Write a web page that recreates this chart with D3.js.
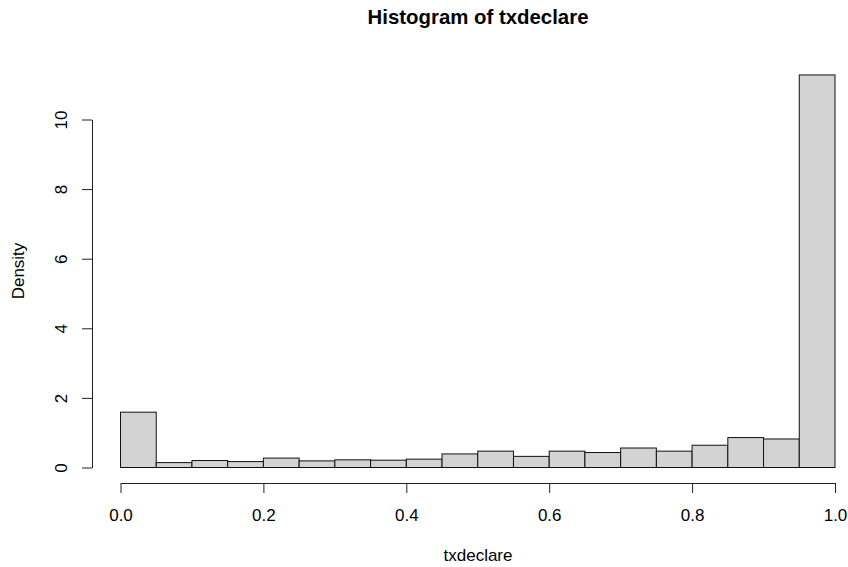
<!DOCTYPE html>
<head>
<meta charset="utf-8">
<script src="https://d3js.org/d3.v7.min.js"></script>
<style>
body { margin:0; background:#fff; }
text { font-family: "Liberation Sans", Arial, sans-serif; fill:#000; }
</style>
</head>
<body>
<script>

// histogram of txdeclare (density scale, breaks of 0.05)
var breaks = [0, 0.05, 0.10, 0.15, 0.20, 0.25, 0.30, 0.35, 0.40, 0.45, 0.50,
              0.55, 0.60, 0.65, 0.70, 0.75, 0.80, 0.85, 0.90, 0.95, 1.00];
var density = [1.59, 0.14, 0.20, 0.17, 0.27, 0.19, 0.22, 0.21, 0.24, 0.39,
               0.47, 0.32, 0.47, 0.43, 0.56, 0.47, 0.64, 0.86, 0.82, 11.28];
var xTicks = [0, 0.2, 0.4, 0.6, 0.8, 1.0];
var yTicks = [0, 2, 4, 6, 8, 10];
var title = "Histogram of txdeclare",
    xLabel = "txdeclare",
    yLabel = "Density";

var width = 848,
  height = 567,
  plotLeft = 92,
  plotBottom = 483;

var svg = d3.select("body").append("svg")
    .attr("width", width)
    .attr("height", height);

var x = d3.scaleLinear()
    .domain([0, 1])
    .range([120.5, 835]);

var y = d3.scaleLinear()
    .domain([0, 10])
    .range([467.5, 119.5]);

var bins = density.map(function(d, i) {
  return {x0: breaks[i], x1: breaks[i + 1], value: d};
});

svg.append("g")
  .attr("class", "bars")
  .selectAll("rect")
  .data(bins)
  .enter().append("rect")
    .attr("x", function(d) { return x(d.x0); })
    .attr("width", function(d) { return x(d.x1) - x(d.x0); })
    .attr("y", function(d) { return y(d.value); })
    .attr("height", function(d) { return y(0) - y(d.value); })
    .style("fill", "#d3d3d3")
    .style("stroke", "#111")
    .style("stroke-width", 1);

var xAxis = svg.append("g")
    .attr("transform", "translate(0," + plotBottom + ")")
    .call(d3.axisBottom(x)
      .tickValues(xTicks)
      .tickFormat(d3.format(".1f"))
      .tickSize(10)
      .tickSizeOuter(0)
      .tickPadding(16));

var yAxis = svg.append("g")
    .attr("transform", "translate(" + plotLeft + ",0)")
    .call(d3.axisLeft(y)
      .tickValues(yTicks)
      .tickSize(10)
      .tickSizeOuter(0));

yAxis.selectAll(".tick text")
    .attr("x", null)
    .attr("dy", null)
    .attr("text-anchor", "middle")
    .attr("transform", "translate(-25,0) rotate(-90)");

svg.selectAll(".domain, .tick line")
    .style("stroke", "#222");
svg.selectAll(".tick text")
    .style("font-size", "17px")
    .style("font-family", "'Liberation Sans', Arial, sans-serif")
    .style("fill", "#000");

svg.append("text")
    .attr("x", 478)
    .attr("y", 24)
    .attr("text-anchor", "middle")
    .style("font-size", "20.4px")
    .style("font-weight", "bold")
    .text(title);

svg.append("text")
    .attr("x", 478)
    .attr("y", 561)
    .attr("text-anchor", "middle")
    .style("font-size", "17px")
    .text(xLabel);

svg.append("text")
    .attr("transform", "translate(24,271) rotate(-90)")
    .attr("text-anchor", "middle")
    .style("font-size", "17px")
    .text(yLabel);

</script>
</body>
